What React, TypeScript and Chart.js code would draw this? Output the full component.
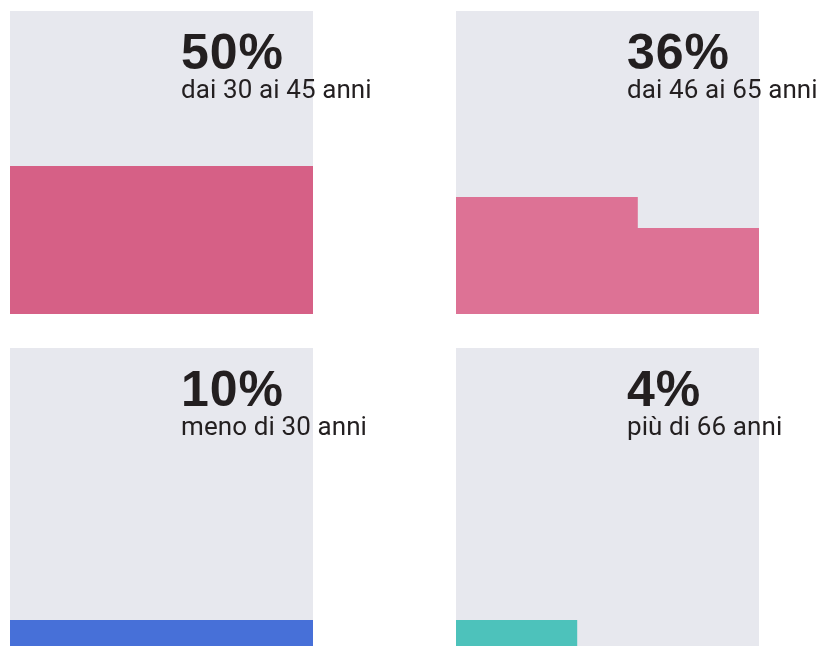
import React, { useEffect, useRef } from "react";
import { Chart, registerables } from "chart.js";

Chart.register(...registerables);

// ---- data ----
const percentages = [50, 36, 10, 4];
const percentLabels = ["50%", "36%", "10%", "4%"];
const groupLabels = ["dai 30 ai 45 anni", "dai 46 ai 65 anni", "meno di 30 anni", "più di 66 anni"];
const fillColors = ["#d66086", "#dd7295", "#4770d8", "#4dc2bb"];
const gridRowsIdx = [0, 1, 2, 3, 4, 5, 6, 7, 8, 9];
const cellsPerRow = 10;

// ---- layout (page pixels) ----
const panelPos = [
  { left: 10, top: 11, shift: 0 },
  { left: 456, top: 11, shift: 0 },
  { left: 10, top: 348, shift: -7 },
  { left: 456, top: 348, shift: -7 },
];
const PANEL_W = 303;
const PANEL_H = 303;
const CANVAS_H = 310;
const BG = "#e7e8ee";
const TEXT = "#231f20";

const bgPlugin = {
  id: "panelBg",
  beforeDraw(chart: any) {
    const { ctx, chartArea } = chart;
    ctx.save();
    ctx.fillStyle = BG;
    ctx.fillRect(chartArea.left, chartArea.top, chartArea.right - chartArea.left, chartArea.bottom - chartArea.top);
    ctx.restore();
  },
};

// cells filled in each row of the 10x10 grid, bottom row first
function rowCells(p: number) {
  const full = Math.floor(p / cellsPerRow);
  const rem = p % cellsPerRow;
  return gridRowsIdx.map((r) => (r < full ? cellsPerRow : r === full ? rem : 0));
}

function Panel({ idx }: { idx: number }) {
  const ref = useRef<HTMLCanvasElement | null>(null);
  useEffect(() => {
    if (!ref.current) return;
    const cells = rowCells(percentages[idx]);
    const chart = new Chart(ref.current, {
      type: "bar",
      data: {
        datasets: [
          {
            label: groupLabels[idx],
            data: gridRowsIdx.map((r, i) => ({ y: r + 0.5, x: cells[i] })),
            backgroundColor: fillColors[idx],
            borderWidth: 0,
            barPercentage: 1,
            categoryPercentage: 1,
            inflateAmount: 0,
          } as any,
        ],
      },
      options: {
        indexAxis: "y",
        animation: false,
        responsive: false,
        events: [],
        layout: { padding: 0 },
        plugins: { legend: { display: false }, tooltip: { enabled: false }, title: { display: false } },
        scales: {
          x: { type: "linear", min: 0, max: cellsPerRow, display: false, offset: false },
          y: { type: "linear", min: 0, max: gridRowsIdx.length, display: false, offset: false },
        },
      },
      plugins: [bgPlugin],
    });
    return () => chart.destroy();
  }, [idx]);

  const pos = panelPos[idx];
  return (
    <div style={{ position: "absolute", left: pos.left, top: pos.top, width: PANEL_W, height: PANEL_H }}>
      <div style={{ position: "absolute", left: 0, top: 0, width: PANEL_W, height: PANEL_H, overflow: "hidden" }}>
        <canvas
          ref={ref}
          width={PANEL_W}
          height={CANVAS_H}
          style={{ position: "absolute", left: 0, top: pos.shift, width: PANEL_W, height: CANVAS_H, display: "block" }}
        />
      </div>
      <div
        style={{
          position: "absolute",
          left: 171,
          top: 16,
          fontFamily: "'Liberation Sans', Arial, sans-serif",
          fontWeight: 700,
          fontSize: 50,
          lineHeight: "50px",
          letterSpacing: "1px",
          color: TEXT,
          whiteSpace: "nowrap",
        }}
      >
        {percentLabels[idx]}
      </div>
      <div
        style={{
          position: "absolute",
          left: 171,
          top: 64.5,
          fontFamily: "Roboto, 'Liberation Sans', sans-serif",
          fontWeight: 400,
          fontSize: 26,
          lineHeight: "26px",
          letterSpacing: "0.1px",
          color: TEXT,
          whiteSpace: "nowrap",
        }}
      >
        {groupLabels[idx]}
      </div>
    </div>
  );
}

export default function App() {
  return (
    <div
      style={{
        position: "fixed",
        left: 0,
        top: 0,
        width: 827,
        height: 646,
        overflow: "hidden",
        background: "#ffffff",
      }}
    >
      {percentages.map((_, i) => (
        <Panel key={i} idx={i} />
      ))}
    </div>
  );
}
